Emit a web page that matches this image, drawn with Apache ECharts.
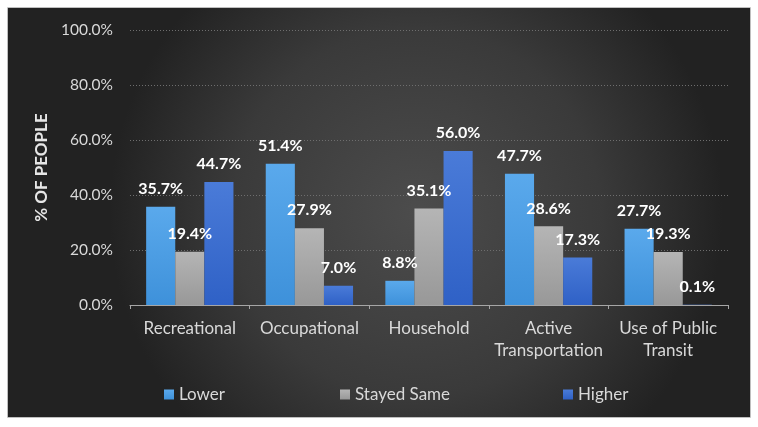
<!DOCTYPE html>
<html><head><meta charset="utf-8">
<script src="https://cdn.jsdelivr.net/npm/echarts@6/dist/echarts.min.js"></script>
<style>html,body{margin:0;padding:0;background:#fff}#c{width:758px;height:427px}</style>
</head><body><div id="c"></div>
<script>
const categories = ['Recreational', 'Occupational', 'Household', 'Active\nTransportation', 'Use of Public\nTransit'];
const lower = [35.7, 51.4, 8.8, 47.7, 27.7];
const stayedSame = [19.4, 27.9, 35.1, 28.6, 19.3];
const higher = [44.7, 7.0, 56.0, 17.3, 0.1];
const seriesNames = ['Lower', 'Stayed Same', 'Higher'];
const yTicks = [0, 20, 40, 60, 80, 100];

const FONT = 'Lato, "Open Sans", sans-serif';
function grad(top, bottom) {
  return new echarts.graphic.LinearGradient(0, 0, 0, 1, [{offset: 0, color: top}, {offset: 1, color: bottom}]);
}
const colors = [grad('#5aa9ec', '#3e91da'), grad('#b5b5b5', '#989898'), grad('#4a7bd8', '#2f61c6')];
const data = [lower, stayedSame, higher];
const legendLeft = [164, 340, 563];

const chart = echarts.init(document.getElementById('c'), null, {renderer: 'canvas'});
chart.setOption({
  backgroundColor: '#ffffff',
  animation: false,
  textStyle: {fontFamily: FONT},
  graphic: [{
    type: 'rect', z: -10, silent: true,
    shape: {x: 8, y: 8, width: 742, height: 409},
    style: {
      fill: new echarts.graphic.RadialGradient(0.55, 0.5, 0.75, [
        {offset: 0, color: '#4c4c4c'}, {offset: 0.6, color: '#3a3a3a'}, {offset: 1, color: '#222222'}
      ])
    }
  }, {
    type: 'rect', z: -11, silent: true,
    shape: {x: 7.5, y: 7.5, width: 743, height: 410},
    style: {fill: 'none', stroke: '#bfbfbf', lineWidth: 1}
  }],
  legend: seriesNames.map((n, i) => ({
    data: [n],
    left: legendLeft[i], top: 386, padding: 0,
    itemWidth: 10, itemHeight: 10,
    icon: 'rect',
    textStyle: {color: '#d9d9d9', fontSize: 17, fontFamily: FONT}
  })),
  grid: {left: 130, right: 30, top: 30, bottom: 122, containLabel: false},
  xAxis: {
    type: 'category', data: categories,
    axisLine: {lineStyle: {color: '#a6a6a6', width: 1}},
    axisTick: {show: true, length: 4, lineStyle: {color: '#a6a6a6'}},
    axisLabel: {color: '#d9d9d9', fontSize: 17, margin: 13, lineHeight: 22, interval: 0, fontFamily: FONT}
  },
  yAxis: {
    type: 'value', min: 0, max: 100, interval: 20,
    name: '% OF PEOPLE', nameLocation: 'middle', nameGap: 78, nameRotate: 90,
    nameTextStyle: {color: '#e6e6e6', fontSize: 17, fontWeight: 'bold', fontFamily: FONT},
    axisLine: {show: false}, axisTick: {show: false},
    axisLabel: {color: '#d9d9d9', fontSize: 15.5, margin: 17, fontFamily: FONT,
      formatter: v => yTicks.includes(v) ? v.toFixed(1) + '%' : ''},
    splitLine: {lineStyle: {color: '#6e6e6e', type: [1, 2], width: 1}}
  },
  series: seriesNames.map((n, i) => ({
    name: n, type: 'bar', data: data[i],
    barGap: '0%', barCategoryGap: '27%',
    itemStyle: {color: colors[i]},
    label: {show: true, position: 'top', distance: 10, color: '#ffffff', fontWeight: 'bold', fontSize: 16,
      fontFamily: FONT, formatter: p => p.value.toFixed(1) + '%'}
  }))
});
</script></body></html>
